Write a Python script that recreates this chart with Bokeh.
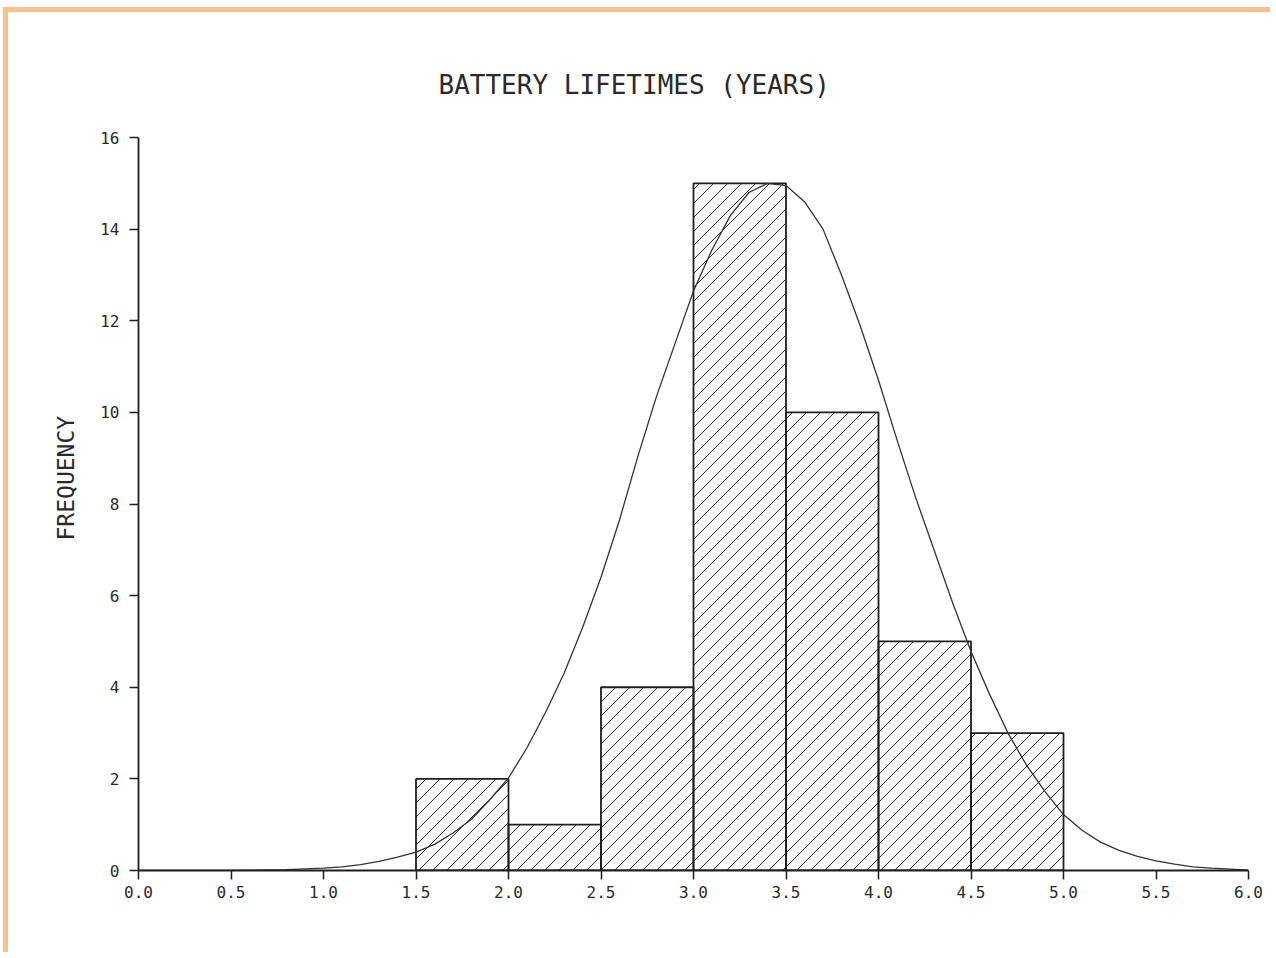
from bokeh.plotting import figure
from bokeh.models import Range1d, FixedTicker, Title
from bokeh.layouts import column
from bokeh.embed import file_html
from bokeh.resources import INLINE

# ---- data ----
title_text = "BATTERY LIFETIMES (YEARS)"
y_label = "FREQUENCY"

bin_left = [1.5, 2.0, 2.5, 3.0, 3.5, 4.0, 4.5]
bin_right = [2.0, 2.5, 3.0, 3.5, 4.0, 4.5, 5.0]
counts = [2, 1, 4, 15, 10, 5, 3]

curve_x = [0.0, 0.5, 0.8, 1.0, 1.1, 1.2, 1.3, 1.4, 1.5, 1.6, 1.7, 1.8, 1.9,
           2.0, 2.1, 2.2, 2.3, 2.4, 2.5, 2.6, 2.7, 2.8, 2.9, 3.0, 3.1, 3.2,
           3.3, 3.4, 3.5, 3.6, 3.7, 3.8, 3.9, 4.0, 4.1, 4.2, 4.3, 4.4, 4.5,
           4.6, 4.7, 4.8, 4.9, 5.0, 5.1, 5.2, 5.3, 5.4, 5.5, 5.6, 5.7, 5.8,
           5.9, 6.0]
curve_y = [0.0, 0.0, 0.02, 0.05, 0.08, 0.13, 0.2, 0.29, 0.4, 0.57, 0.82, 1.12, 1.55,
           2.02, 2.68, 3.45, 4.3, 5.3, 6.4, 7.65, 9.05, 10.35, 11.5, 12.65, 13.55, 14.3,
           14.8, 15.0, 14.95, 14.6, 14.0, 13.0, 11.9, 10.7, 9.4, 8.15, 7.0, 5.85, 4.78,
           3.85, 3.0, 2.3, 1.72, 1.22, 0.88, 0.62, 0.44, 0.31, 0.21, 0.14, 0.08, 0.05,
           0.03, 0.01]

x_ticks = [0.0, 0.5, 1.0, 1.5, 2.0, 2.5, 3.0, 3.5, 4.0, 4.5, 5.0, 5.5, 6.0]
x_tick_labels = ["0.0", "0.5", "1.0", "1.5", "2.0", "2.5", "3.0", "3.5", "4.0",
                 "4.5", "5.0", "5.5", "6.0"]
y_ticks = [0, 2, 4, 6, 8, 10, 12, 14, 16]
y_tick_labels = ["0", "2", "4", "6", "8", "10", "12", "14", "16"]

# ---- styling ----
INK = "#1e1e1e"
TEXT = "#2a2a2a"
FONT = "DejaVu Sans Mono"
BORDER = "#FBBF8E"
W, H = 1262, 940
ML, MT, MR, MB = 130, 125, 22, 82
X0, X1, Y0, Y1 = 0, 6, 0, 16
HATCH_STEP = 14.0   # horizontal spacing of hatch lines, px

p = figure(width=W, height=H, x_range=Range1d(X0, X1), y_range=Range1d(Y0, Y1),
           output_backend="svg", toolbar_location=None, title=title_text,
           min_border_left=ML, min_border_top=MT, min_border_right=MR,
           min_border_bottom=MB)

p.background_fill_color = "white"
p.border_fill_color = "white"
p.outline_line_color = None
p.grid.visible = False

p.title.align = "left"
p.title.offset = 300
p.title.standoff = 76
p.title.text_font = FONT
p.title.text_font_size = "26px"
p.title.text_font_style = "normal"
p.title.text_color = TEXT

# 45-degree hatch lines ("/") clipped to each bar, derived from the bar arrays
px_x = (W - ML - MR) / (X1 - X0)
px_y = (H - MT - MB) / (Y1 - Y0)
hx0, hy0, hx1, hy1 = [], [], [], []
for l, r, h in zip(bin_left, bin_right, counts):
    u_min = l * px_x - h * px_y
    u_max = r * px_x
    k = int(u_min // HATCH_STEP) + 1
    while k * HATCH_STEP < u_max:
        u = k * HATCH_STEP
        if u >= l * px_x:
            sx, sy = u / px_x, 0.0
        else:
            sx, sy = l, (l * px_x - u) / px_y
        ey = (r * px_x - u) / px_y
        if ey <= h:
            ex = r
        else:
            ex, ey = (u + h * px_y) / px_x, h
        hx0.append(sx); hy0.append(sy); hx1.append(ex); hy1.append(ey)
        k += 1

p.segment(x0=hx0, y0=hy0, x1=hx1, y1=hy1, line_color="#2e2e2e", line_width=1.0)

p.quad(left=bin_left, right=bin_right, top=counts, bottom=0,
       fill_color=None, line_color=INK, line_width=1.8)

p.line(curve_x, curve_y, line_color="#333333", line_width=1.3)

for ax in (p.xaxis, p.yaxis):
    ax.axis_line_color = INK
    ax.axis_line_width = 1.8
    ax.major_tick_line_color = INK
    ax.major_tick_line_width = 1.5
    ax.major_tick_in = 0
    ax.major_tick_out = 9
    ax.minor_tick_in = 0
    ax.minor_tick_out = 0
    ax.major_label_text_font = FONT
    ax.major_label_text_font_size = "16px"
    ax.major_label_text_color = TEXT

p.xaxis.ticker = FixedTicker(ticks=x_ticks)
p.xaxis.major_label_overrides = {t: l for t, l in zip(x_ticks, x_tick_labels)}
p.xaxis.major_label_text_align = "left"
p.xaxis.major_label_standoff = 6

p.yaxis.ticker = FixedTicker(ticks=y_ticks)
p.yaxis.major_label_overrides = {t: l for t, l in zip(y_ticks, y_tick_labels)}
p.yaxis.major_label_standoff = 10

ytitle = Title(text=y_label, align="left", offset=330, standoff=38,
               text_font=FONT, text_font_size="23px", text_font_style="normal",
               text_color=TEXT)
p.add_layout(ytitle, "left")

layout = column(p, styles={"border-top": f"5px solid {BORDER}",
                           "border-left": f"5px solid {BORDER}",
                           "margin-top": "7px", "margin-left": "3px"})

open("out.html", "w").write(file_html(layout, INLINE))
